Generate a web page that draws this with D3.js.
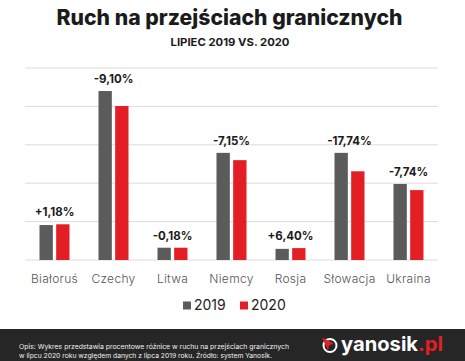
<!DOCTYPE html>
<html lang="pl">
<head>
<meta charset="UTF-8">
<title>Ruch na przejściach granicznych</title>
<script src="https://d3js.org/d3.v7.min.js"></script>
<style>
    body { margin: 0; background: #fff; font-family: "Inter", "Open Sans", sans-serif; }
    svg { display: block; }
</style>
</head>
<body>
<div id="chart"></div>
<script>
    // data (relative units, grid step = 1)
    var countries = ['Białoruś', 'Czechy', 'Litwa', 'Niemcy', 'Rosja', 'Słowacja', 'Ukraina'];
    var years = ['2019', '2020'];
    var values2019 = [0.91, 4.40, 0.32, 2.79, 0.29, 2.79, 1.98];
    var values2020 = [0.93, 4.01, 0.32, 2.60, 0.31, 2.31, 1.82];
    var changeLabels = ['+1,18%', '-9,10%', '-0,18%', '-7,15%', '+6,40%', '-17,74%', '-7,74%'];
    var gridTicks = [0, 1, 2, 3, 4, 5];

    var colors = {'2019': '#5b5b5b', '2020': '#e31e25'};

    var w = 465, h = 361;
    var m = {top: 68, left: 25, bottom: 101, right: 27};

    var data = countries.map(function(c, i){
        return {country: c, label: changeLabels[i],
                vals: [{year: '2019', v: values2019[i]}, {year: '2020', v: values2020[i]}]};
    });

    var svg = d3.select('#chart').append('svg')
        .attr('width', w).attr('height', h);

    // title
    svg.append('text')
        .attr('x', 229.5).attr('y', 24.5)
        .attr('text-anchor', 'middle')
        .attr('font-size', 21).attr('font-weight', 800)
        .attr('fill', '#1b1b1b')
        .attr('textLength', 346).attr('lengthAdjust', 'spacingAndGlyphs')
        .text('Ruch na przejściach granicznych');
    svg.append('text')
        .attr('x', 230).attr('y', 46)
        .attr('text-anchor', 'middle')
        .attr('font-size', 11).attr('font-weight', 700)
        .attr('fill', '#1b1b1b')
        .attr('textLength', 119).attr('lengthAdjust', 'spacingAndGlyphs')
        .text('LIPIEC 2019 VS. 2020');

    var x0 = d3.scaleBand().domain(countries).range([m.left, w - m.right]);
    var x1 = d3.scaleBand().domain(years).range([0, 30]).paddingInner(0.2);
    var pad = (x0.bandwidth() - 30) / 2;
    var y = d3.scaleLinear().domain([0, 5]).range([h - m.bottom, m.top]);

    // grid
    svg.append('g').selectAll('line')
        .data(gridTicks).enter().append('line')
        .attr('x1', m.left).attr('x2', w - m.right)
        .attr('y1', function(d){ return y(d); })
        .attr('y2', function(d){ return y(d); })
        .attr('stroke', '#dcdcdc').attr('stroke-width', 1);

    var groups = svg.append('g').selectAll('g')
        .data(data).enter().append('g')
        .attr('transform', function(d){ return 'translate(' + (x0(d.country) + pad) + ',0)'; });

    groups.selectAll('rect')
        .data(function(d){ return d.vals; })
        .enter().append('rect')
        .attr('x', function(d){ return x1(d.year); })
        .attr('width', x1.bandwidth())
        .attr('y', function(d){ return y(d.v); })
        .attr('height', function(d){ return y(0) - y(d.v); })
        .attr('fill', function(d){ return colors[d.year]; });

    // change labels
    groups.append('text')
        .attr('x', 15)
        .attr('y', function(d){ return y(d3.max(d.vals, function(e){ return e.v; })) - 8; })
        .attr('text-anchor', 'middle')
        .attr('font-size', 11.5).attr('font-weight', 700)
        .attr('fill', '#1b1b1b')
        .text(function(d){ return d.label; });

    // x axis labels
    var xAxis = d3.axisBottom(x0).tickSize(0).tickPadding(14);
    var gx = svg.append('g')
        .attr('transform', 'translate(0,' + (h - m.bottom) + ')')
        .call(xAxis);
    gx.select('.domain').remove();
    gx.selectAll('text')
        .attr('font-family', '"Inter", "Open Sans", sans-serif')
        .attr('font-size', 12).attr('font-weight', 300)
        .attr('letter-spacing', 0.3)
        .attr('fill', '#555');

    // legend
    var legend = svg.append('g');
    var legendX = [183, 240];
    years.forEach(function(yr, i){
        legend.append('rect')
            .attr('x', legendX[i]).attr('y', 301.5)
            .attr('width', 8).attr('height', 8)
            .attr('fill', colors[yr]);
        legend.append('text')
            .attr('x', legendX[i] + 11).attr('y', 309.5)
            .attr('font-size', 14).attr('fill', '#222')
            .text(yr);
    });

    // footer
    svg.append('rect')
        .attr('x', 0).attr('y', 329).attr('width', w).attr('height', h - 329)
        .attr('fill', '#262626');
    svg.append('text')
        .attr('x', 19).attr('y', 349)
        .attr('font-size', 6.8).attr('fill', '#f0f0f0')
        .attr('textLength', 270).attr('lengthAdjust', 'spacingAndGlyphs')
        .text('Opis: Wykres przedstawia procentowe różnice w ruchu na przejściach granicznych');
    svg.append('text')
        .attr('x', 19).attr('y', 358)
        .attr('font-size', 6.8).attr('fill', '#f0f0f0')
        .attr('textLength', 253).attr('lengthAdjust', 'spacingAndGlyphs')
        .text('w lipcu 2020 roku względem danych z lipca 2019 roku. Źródło: system Yanosik.');

    // logo
    var logo = svg.append('g').attr('transform', 'translate(330,345.5)');
    logo.append('circle').attr('r', 6.5)
        .attr('fill', 'none').attr('stroke', '#fff').attr('stroke-width', 2);
    logo.append('path')
        .attr('d', 'M-8,-8 L4,-2 L-1,0 L-2,5 Z')
        .attr('fill', '#e31e25');
    var logoText = svg.append('text')
        .attr('x', 341).attr('y', 351)
        .attr('font-size', 20).attr('font-weight', 700)
        .attr('fill', '#fff')
        .attr('textLength', 102).attr('lengthAdjust', 'spacingAndGlyphs');
    logoText.append('tspan').text('yanosik');
    logoText.append('tspan').attr('fill', '#e31e25').text('.pl');
</script>
</body>
</html>
